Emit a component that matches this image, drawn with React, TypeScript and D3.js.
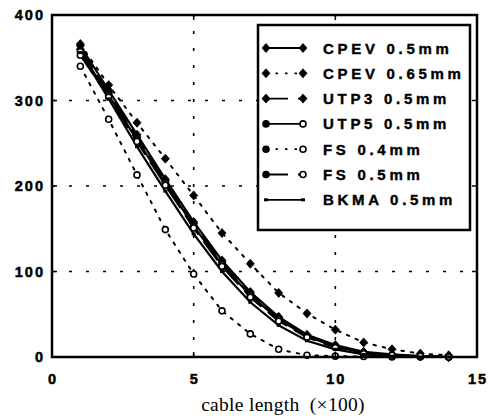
import React from "react";
import * as d3 from "d3";

// cable length in hundreds of metres
const lengths = [1, 2, 3, 4, 5, 6, 7, 8, 9, 10, 11, 12, 13, 14];

const cpev05 = [364, 312, 260, 208, 158, 113, 76, 47, 26, 14, 6, 3, 1, 0];
const cpev065 = [366, 318, 274, 232, 189, 145, 109, 75, 51, 32, 17, 9, 4, 2];
const utp3 = [360, 309, 257, 206, 156, 111, 74, 46, 25, 13, 5, 2, 1, 0];
const utp5 = [357, 306, 254, 203, 153, 108, 72, 44, 24, 12, 5, 2, 1, 0];
const fs04 = [340, 278, 213, 149, 97, 54, 27, 9, 2, 1, 0.5, 0, 0, 0];
const fs05 = [353, 304, 252, 201, 151, 106, 70, 42, 23, 11, 4, 2, 1, 0];
const bkma = [356, 302, 246, 194, 144, 100, 64, 37, 19, 9, 3, 1, 0, 0];

const seriesNames = [
  "CPEV 0.5mm",
  "CPEV 0.65mm",
  "UTP3 0.5mm",
  "UTP5 0.5mm",
  "FS 0.4mm",
  "FS 0.5mm",
  "BKMA 0.5mm",
];

const xTicks = [0, 5, 10, 15];
const yTicks = [0, 100, 200, 300, 400];

type Marker = "diamond" | "circle" | "point";

const series: { name: string; values: number[]; marker: Marker; dash: string | null }[] = [
  { name: seriesNames[0], values: cpev05, marker: "diamond", dash: null },
  { name: seriesNames[1], values: cpev065, marker: "diamond", dash: "2.5,7" },
  { name: seriesNames[2], values: utp3, marker: "diamond", dash: "22,10" },
  { name: seriesNames[3], values: utp5, marker: "circle", dash: null },
  { name: seriesNames[4], values: fs04, marker: "circle", dash: "2.5,7" },
  { name: seriesNames[5], values: fs05, marker: "circle", dash: "22,10" },
  { name: seriesNames[6], values: bkma, marker: "point", dash: null },
];

const W = 493;
const H = 418;
const left = 52;
const right = 477;
const top = 15;
const bottom = 357;

const x = d3.scaleLinear().domain([0, 15]).range([left, right]);
const y = d3.scaleLinear().domain([0, 400]).range([bottom, top]);

const lineGen = d3
  .line<number>()
  .x((_, i) => x(lengths[i]))
  .y((v) => y(v))
  .curve(d3.curveLinear);

const sansBold = "'Liberation Sans', Arial, Helvetica, sans-serif";

function MarkerShape({ kind, cx, cy, filled }: { kind: Marker; cx: number; cy: number; filled?: boolean }) {
  if (kind === "diamond") {
    return (
      <path
        d={`M${cx},${cy - 4.5}L${cx + 4},${cy}L${cx},${cy + 4.5}L${cx - 4},${cy}Z`}
        fill="#000"
        stroke="#000"
        strokeWidth={0.8}
      />
    );
  }
  if (kind === "circle") {
    return (
      <circle
        cx={cx}
        cy={cy}
        r={3}
        fill={filled ? "#000" : "#fff"}
        stroke="#000"
        strokeWidth={1.6}
      />
    );
  }
  return <rect x={cx - 2} y={cy - 1.5} width={4} height={3} fill="#000" />;
}

export default function App() {
  const legendRows = series.map((s, i) => ({ ...s, ry: 48 + i * 25.3 }));
  return (
    <svg
      width={W}
      height={H}
      viewBox={`0 0 ${W} ${H}`}
      style={{ position: "absolute", left: 0, top: 0, background: "#fff" }}
    >
      <rect x={0} y={0} width={W} height={H} fill="#fff" />

      {/* dotted grid */}
      <g stroke="#000" strokeWidth={1.6} strokeDasharray="3,14">
        {[5, 10].map((t) => (
          <line key={`gx${t}`} x1={x(t)} x2={x(t)} y1={y(0)} y2={y(400)} />
        ))}
        {[100, 200, 300].map((t) => (
          <line key={`gy${t}`} x1={x(0)} x2={x(15)} y1={y(t)} y2={y(t)} />
        ))}
      </g>

      {/* series lines */}
      <g fill="none" stroke="#000">
        {series.map((s) => (
          <path
            key={s.name}
            d={lineGen(s.values) || ""}
            strokeWidth={s.dash && s.dash.startsWith("2.5") ? 2 : 2.2}
            strokeDasharray={s.dash || undefined}
            strokeLinecap="round"
          />
        ))}
      </g>

      {/* markers */}
      <g>
        {series.map((s) =>
          s.values.map((v, i) => (
            <MarkerShape key={`${s.name}-${i}`} kind={s.marker} cx={x(lengths[i])} cy={y(v)} />
          ))
        )}
      </g>

      {/* axes frame */}
      <rect
        x={left}
        y={top}
        width={right - left}
        height={bottom - top}
        fill="none"
        stroke="#000"
        strokeWidth={2.5}
      />

      {/* inward ticks */}
      <g stroke="#000" strokeWidth={1.5}>
        {[5, 10].map((t) => (
          <g key={`tx${t}`}>
            <line x1={x(t)} x2={x(t)} y1={bottom} y2={bottom - 5} />
            <line x1={x(t)} x2={x(t)} y1={top} y2={top + 5} />
          </g>
        ))}
        {[100, 200, 300].map((t) => (
          <g key={`ty${t}`}>
            <line x1={left} x2={left + 5} y1={y(t)} y2={y(t)} />
            <line x1={right} x2={right - 5} y1={y(t)} y2={y(t)} />
          </g>
        ))}
      </g>

      {/* tick labels */}
      <g
        fontFamily={sansBold}
        fontWeight="bold"
        fontSize={14.5}
        fill="#000"
        stroke="#000"
        strokeWidth={0.5}
      >
        {yTicks.map((t) => (
          <text
            key={`ly${t}`}
            x={left - 7}
            y={y(t) + 5}
            textAnchor="end"
            letterSpacing={2}
          >
            {t}
          </text>
        ))}
        {xTicks.map((t) => (
          <text key={`lx${t}`} x={x(t) + 1} y={384} textAnchor="middle" letterSpacing={2}>
            {t}
          </text>
        ))}
      </g>

      {/* axis title */}
      <text
        x={283}
        y={411}
        textAnchor="middle"
        fontFamily="'Liberation Serif', 'Times New Roman', serif"
        fontSize={19.5}
        letterSpacing={0.3}
        fill="#000"
        style={{ whiteSpace: "pre" }}
      >
        cable length  (×100)
      </text>

      {/* legend */}
      <g>
        <rect x={258} y={25} width={212} height={205} fill="#fff" stroke="#000" strokeWidth={2.5} />
        {legendRows.map((s) => (
          <g key={`lg-${s.name}`}>
            <line
              x1={266}
              x2={303}
              y1={s.ry}
              y2={s.ry}
              stroke="#000"
              strokeWidth={1.8}
              strokeDasharray={s.dash || undefined}
            />
            <MarkerShape kind={s.marker} cx={266} cy={s.ry} filled />
            <MarkerShape kind={s.marker} cx={303} cy={s.ry} />
            <text
              x={323}
              y={s.ry + 5.5}
              fontFamily={sansBold}
              fontWeight="bold"
              fontSize={15}
              letterSpacing={3.7}
              fill="#000"
              stroke="#000"
              strokeWidth={0.4}
            >
              {s.name}
            </text>
          </g>
        ))}
      </g>
    </svg>
  );
}
